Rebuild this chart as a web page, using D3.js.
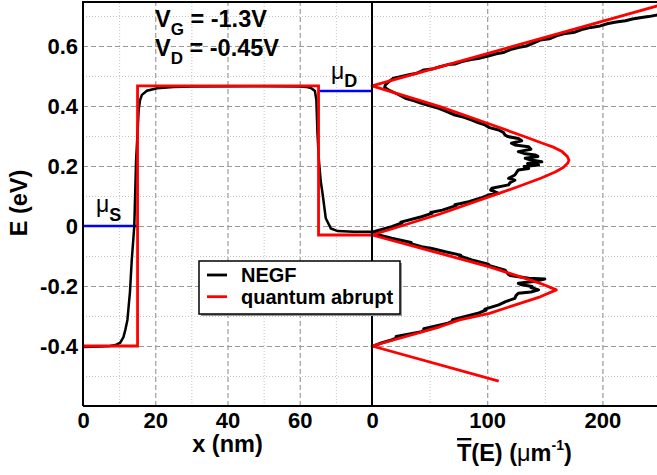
<!DOCTYPE html>
<html>
<head>
<meta charset="utf-8">
<script src="https://cdn.jsdelivr.net/npm/d3@7"></script>
<style>
body { margin: 0; background: #fff; }
text { font-family: "Liberation Sans", Arial, sans-serif; font-weight: bold; }
</style>
</head>
<body>
<script>
width = 657
height = 475

// potential profile along the channel (x in nm, E in eV)
abruptX = [0, 15.1, 15.1, 65.2, 65.2, 80]
abruptE = [-0.4, -0.4, 0.467, 0.467, -0.03, -0.03]
negfX = [0, 5, 7.5, 9, 10.3, 11.2, 11.7, 12.3, 13, 13.5, 14.2, 14.7, 15.1, 15.4, 15.8, 16.3, 17.7, 20.5, 25, 30, 50, 60, 62, 63.1, 64.2, 64.6, 64.9, 65.3, 65.8, 66.3, 67.2, 68.6, 70.5, 75, 80]
negfE = [-0.403, -0.402, -0.4, -0.397, -0.389, -0.37, -0.347, -0.313, -0.22, -0.113, 0, 0.22, 0.31, 0.387, 0.42, 0.437, 0.451, 0.459, 0.463, 0.465, 0.466, 0.465, 0.463, 0.46, 0.45, 0.42, 0.31, 0.22, 0.15, 0.109, 0.026, -0.008, -0.017, -0.019, -0.019]

// contact chemical potentials
muS = 0
muD = 0.45
muSX = [0, 15.1]
muDX = [65.2, 80]

// transmission per width, quantum abrupt model
abruptTE = [-0.517, -0.4, -0.336, -0.313, -0.291, -0.236, -0.213, -0.191, -0.136, -0.091, -0.03,
  0.04, 0.098, 0.13, 0.16, 0.18, 0.195, 0.21, 0.22, 0.232, 0.248, 0.262, 0.276, 0.3, 0.34, 0.398, 0.467, 0.76]
abruptT = [110, 0, 59, 76, 102, 146, 160, 146, 102, 59, 0,
  59, 102, 126, 147, 159, 166, 170, 171, 169.5, 165, 158, 148, 131, 102, 59, 0, 272]

// transmission per width, NEGF (noisy)
negfTE = [-0.402, -0.39, -0.38, -0.372, -0.368, -0.352, -0.345, -0.342, -0.324, -0.315, -0.312, -0.291, -0.28, -0.277, -0.263, -0.252, -0.241, -0.232, -0.224, -0.22, -0.213, -0.205, -0.202, -0.196, -0.191, -0.185, -0.177, -0.174, -0.165, -0.16, -0.147, -0.13, -0.127, -0.113, -0.1, -0.097, -0.086, -0.075, -0.069, -0.058, -0.055, -0.041, -0.03, -0.021,
  -0.002, 0.01, 0.013, 0.031, 0.042, 0.045, 0.053, 0.068, 0.071, 0.081, 0.095, 0.103, 0.109, 0.12, 0.126, 0.137, 0.145, 0.153, 0.159, 0.17, 0.187, 0.192, 0.198, 0.203, 0.208, 0.214, 0.22, 0.226, 0.232, 0.237, 0.242, 0.248, 0.256, 0.264, 0.27, 0.276, 0.284, 0.292, 0.298, 0.303, 0.312, 0.32, 0.328, 0.337, 0.345, 0.353, 0.362, 0.37, 0.38, 0.392, 0.4, 0.409, 0.418, 0.426, 0.44, 0.453, 0.462, 0.47, 0.481, 0.493,
  0.505, 0.508, 0.515, 0.52, 0.523, 0.531, 0.538, 0.54, 0.548, 0.555, 0.558, 0.566, 0.574, 0.578, 0.588, 0.596, 0.6, 0.61, 0.62, 0.624, 0.634, 0.642, 0.646, 0.655, 0.662, 0.667, 0.675, 0.68, 0.684, 0.69, 0.695, 0.698, 0.703, 0.71, 0.715]
negfT = [0, 8, 17, 22, 21, 43, 46, 45, 66, 71, 70, 92, 99, 98, 110, 116, 124, 125, 127, 138, 144.6, 138, 139, 130, 127, 140, 150, 136, 120, 118, 115.6, 100, 101, 86.7, 76, 77, 63.6, 52, 43, 33, 34, 17, 6, 0,
  17, 26, 25, 43, 52, 51, 61, 73, 72, 84, 96, 101, 110, 103, 104, 118.5, 120, 124, 118.5, 124, 127, 136, 132, 144.6, 135, 147.4, 138, 133, 144, 141.6, 132, 127, 138, 136, 124, 121, 130, 127, 118, 115.6, 114, 110, 102, 98, 92, 86.7, 80, 72, 66, 58, 51, 43, 36, 29, 22, 14.5, 11, 11.6, 14.5, 19,
  33, 38, 42, 45, 52, 59, 66, 72, 78, 86, 92, 100, 108, 114, 120, 128, 134, 140, 146, 154, 160, 168, 176, 182, 190, 198, 205, 212, 220, 226, 234, 240, 247, 256, 264]

yTicks = [-0.4, -0.2, 0, 0.2, 0.4, 0.6]
yMinor = [-0.5, -0.3, -0.1, 0.1, 0.3, 0.5, 0.7]
xTicks = [0, 20, 40, 60]
xMinor = [10, 30, 50, 70]
tTicks = [0, 100, 200]
tMinor = [50, 150, 250]

x = d3.scaleLinear().domain([0, 80]).range([83, 372])
t = d3.scaleLinear().domain([0, 250]).range([372, 660])
y = d3.scaleLinear().domain([-0.6, 0.75]).range([406, 1])

const svg = d3.select("body").append("svg")
    .attr("width", width)
    .attr("height", height)

svg.append("clipPath").attr("id", "plot")
  .append("rect")
    .attr("x", x(0)).attr("y", y(0.75))
    .attr("width", t(250) - x(0)).attr("height", y(-0.6) - y(0.75))

// grid
function grid(axis, major) {
  return g => g.call(axis)
    .call(g => g.select(".domain").remove())
    .call(g => g.selectAll(".tick line")
      .attr("stroke", major ? "#9a9a9a" : "#c4c4c4")
      .attr("stroke-width", major ? 1.2 : 1)
      .attr("stroke-dasharray", major ? "5,3" : "1,2"))
}
const gw = t(250) - x(0), gh = y(-0.6) - y(0.75)
svg.append("g").attr("transform", `translate(${x(0)},0)`)
  .call(grid(d3.axisLeft(y).tickValues(yMinor).tickSize(-gw).tickFormat(""), false))
svg.append("g").attr("transform", `translate(${x(0)},0)`)
  .call(grid(d3.axisLeft(y).tickValues(yTicks).tickSize(-gw).tickFormat(""), true))
svg.append("g").attr("transform", `translate(0,${y(-0.6)})`)
  .call(grid(d3.axisBottom(x).tickValues(xMinor).tickSize(-gh).tickFormat(""), false))
svg.append("g").attr("transform", `translate(0,${y(-0.6)})`)
  .call(grid(d3.axisBottom(x).tickValues(xTicks.slice(1)).tickSize(-gh).tickFormat(""), true))
svg.append("g").attr("transform", `translate(0,${y(-0.6)})`)
  .call(grid(d3.axisBottom(t).tickValues(tMinor).tickSize(-gh).tickFormat(""), false))
svg.append("g").attr("transform", `translate(0,${y(-0.6)})`)
  .call(grid(d3.axisBottom(t).tickValues(tTicks.slice(1)).tickSize(-gh).tickFormat(""), true))

// tick labels
function labels(g) {
  g.select(".domain").remove()
  g.selectAll(".tick line").remove()
  g.attr("font-size", 22).attr("font-family", null).selectAll("text").attr("fill", "#000")
}
svg.append("g").attr("transform", `translate(${x(0)},0)`)
  .call(d3.axisLeft(y).tickValues(yTicks).tickSize(0).tickPadding(5).tickFormat(d => String(d)))
  .call(labels)
svg.append("g").attr("transform", `translate(0,${y(-0.6)})`)
  .call(d3.axisBottom(x).tickValues(xTicks).tickSize(0).tickPadding(6).tickFormat(d => String(d)))
  .call(labels)
svg.append("g").attr("transform", `translate(0,${y(-0.6)})`)
  .call(d3.axisBottom(t).tickValues(tTicks).tickSize(0).tickPadding(6).tickFormat(d => String(d)))
  .call(labels)

const plot = svg.append("g").attr("clip-path", "url(#plot)")
const profile = d3.line().x(d => x(d[0])).y(d => y(d[1]))
const trans = d3.line().x(d => t(d[0])).y(d => y(d[1]))

// chemical potentials
plot.append("path").attr("d", profile(muSX.map(v => [v, muS])))
  .attr("stroke", "#0000ff").attr("stroke-width", 2.5).attr("fill", "none")
plot.append("path").attr("d", profile(muDX.map(v => [v, muD])))
  .attr("stroke", "#0000ff").attr("stroke-width", 2.5).attr("fill", "none")

plot.append("path").attr("d", profile(negfX.map((v, i) => [v, negfE[i]])))
  .attr("stroke", "#000").attr("stroke-width", 2.5).attr("fill", "none")
plot.append("path").attr("d", profile(abruptX.map((v, i) => [v, abruptE[i]])))
  .attr("stroke", "#ff0000").attr("stroke-width", 2.8).attr("fill", "none")
  .attr("stroke-linejoin", "miter")

plot.append("path").attr("d", trans(negfT.map((v, i) => [v, negfTE[i]])))
  .attr("stroke", "#000").attr("stroke-width", 3).attr("fill", "none")
  .attr("stroke-linejoin", "round")
plot.append("path").attr("d", trans(abruptT.map((v, i) => [v, abruptTE[i]])))
  .attr("stroke", "#ff0000").attr("stroke-width", 2.8).attr("fill", "none")
  .attr("stroke-linejoin", "round")

// frame
const frame = svg.append("g").attr("stroke", "#000").attr("stroke-width", 2)
frame.append("line").attr("x1", x(0)).attr("x2", x(0)).attr("y1", y(0.75)).attr("y2", y(-0.6))
frame.append("line").attr("x1", x(80)).attr("x2", x(80)).attr("y1", y(0.75)).attr("y2", y(-0.6))
frame.append("line").attr("x1", x(0)).attr("x2", t(250)).attr("y1", y(-0.6)).attr("y2", y(-0.6))
frame.append("line").attr("x1", x(0)).attr("x2", t(250)).attr("y1", y(0.75) + 1).attr("y2", y(0.75) + 1)

// axis titles
svg.append("text").attr("transform", "translate(27,203) rotate(-90)")
  .attr("text-anchor", "middle").attr("font-size", 23.5).text("E (eV)")
svg.append("text").attr("x", 227.5).attr("y", 452)
  .attr("text-anchor", "middle").attr("font-size", 23.5).text("x (nm)")
const tl = svg.append("text").attr("x", 457).attr("y", 461).attr("font-size", 23.5)
tl.append("tspan").style("text-decoration", "overline").text("T")
tl.append("tspan").text("(E) (")
tl.append("tspan").attr("font-weight", "normal").text("μ")
tl.append("tspan").text("m")
tl.append("tspan").attr("font-size", 14).attr("dy", -11).text("-1")
tl.append("tspan").attr("dy", 11).text(")")

// annotations
const vg = svg.append("text").attr("x", 155).attr("y", 27).attr("font-size", 23.5)
vg.append("tspan").text("V")
vg.append("tspan").attr("font-size", 17).attr("dy", 8).text("G")
vg.append("tspan").attr("dy", -8).text(" = -1.3V")
const vd = svg.append("text").attr("x", 155).attr("y", 56).attr("font-size", 23.5)
vd.append("tspan").text("V")
vd.append("tspan").attr("font-size", 17).attr("dy", 8).text("D")
vd.append("tspan").attr("dy", -8).text(" = -0.45V")

const ms = svg.append("text").attr("x", 96).attr("y", 212).attr("font-size", 23)
ms.append("tspan").attr("font-weight", "normal").text("μ")
ms.append("tspan").attr("font-size", 18).attr("dy", 9).text("S")
const md = svg.append("text").attr("x", 331).attr("y", 79).attr("font-size", 23)
md.append("tspan").attr("font-weight", "normal").text("μ")
md.append("tspan").attr("font-size", 18).attr("dy", 8).text("D")

// legend
const legendItems = [{name: "NEGF", color: "#000"}, {name: "quantum abrupt", color: "#ff0000"}]
const legend = svg.append("g").attr("transform", "translate(199,261)")
legend.append("rect").attr("x", 2).attr("y", 2).attr("width", 201).attr("height", 53).attr("fill", "#999")
legend.append("rect").attr("width", 201).attr("height", 53)
  .attr("fill", "#fff").attr("stroke", "#000").attr("stroke-width", 1.5)
const li = legend.selectAll("g.item").data(legendItems).enter().append("g")
    .attr("transform", (d, i) => `translate(0,${14 + i * 21.7})`)
li.append("line").attr("x1", 8).attr("x2", 28)
    .attr("stroke", d => d.color).attr("stroke-width", 2.8)
li.append("text").attr("x", 42).attr("dy", "0.36em").attr("font-size", 20).text(d => d.name)
</script>
</body>
</html>
